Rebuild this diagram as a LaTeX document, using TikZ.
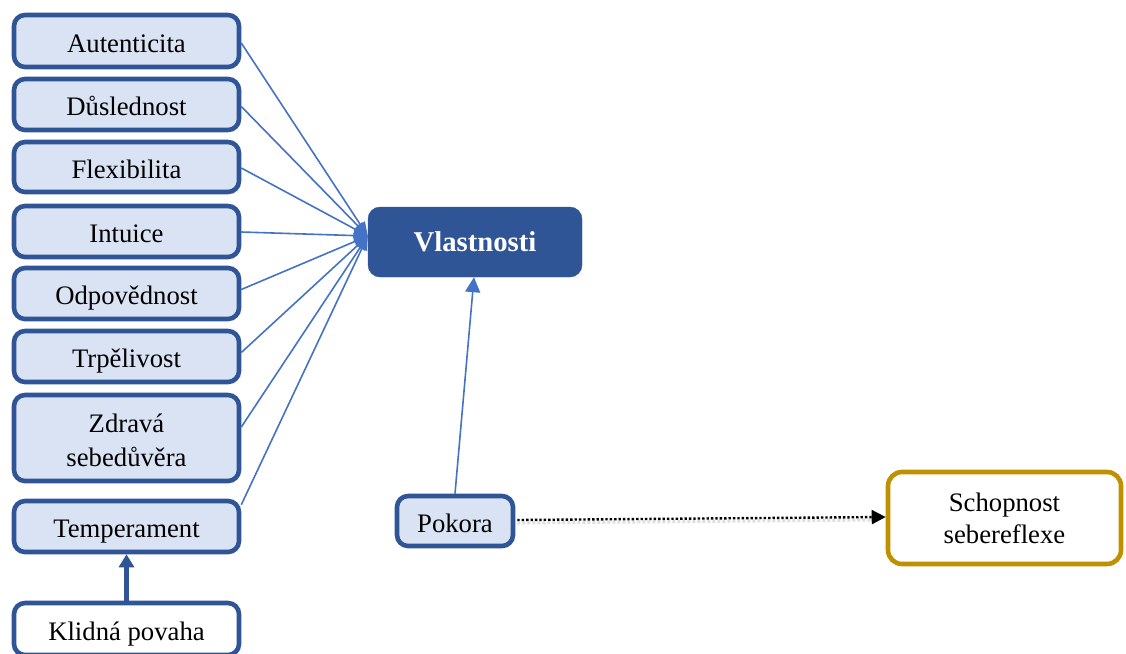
\documentclass[tikz,border=0pt]{standalone}
\usepackage{fontspec}
\setmainfont{Liberation Serif}
\usetikzlibrary{arrows.meta,calc}
\definecolor{navy}{HTML}{2F5597}
\definecolor{paleblue}{HTML}{DAE3F3}
\definecolor{linkblue}{HTML}{4472C4}
\definecolor{gold}{HTML}{BF9000}
\begin{document}
\begin{tikzpicture}[x=1pt,y=-1pt,
  trait/.style={draw=navy, fill=paleblue, line width=4.6pt, rounded corners=11pt,
    minimum width=225pt, inner sep=0pt, align=center,
    text height=22pt, text depth=0pt,
    font=\fontsize{26.7}{34}\selectfont},
  plainbox/.style={trait, fill=white},
  hubbox/.style={draw=navy, fill=navy, rounded corners=12pt, minimum width=214pt,
    minimum height=70pt, inner sep=0pt, text=white,
    font=\fontsize{28.7}{34}\selectfont\bfseries},
  goalbox/.style={draw=gold, fill=white, line width=4.6pt, rounded corners=14pt,
    minimum width=233pt, minimum height=92pt, inner sep=0pt, align=center,
    font=\fontsize{26.7}{32}\selectfont},
  feed/.style={draw=linkblue, line width=1.6pt, -{Triangle[length=14pt,width=11pt]}},
  lift/.style={draw=linkblue, line width=1.6pt, -{Triangle[length=15pt,width=15pt]}},
  base/.style={draw=navy, line width=4.5pt, -{Triangle[length=13pt,width=15pt]}},
  hint/.style={draw=black, line width=2.4pt, dotted, -{Triangle[length=14pt,width=14pt]}}]
\useasboundingbox (0,0) rectangle (1126,653);

% left column of traits
\node[trait, minimum height=52pt] (t1) at (126.5,41) {Autenticita};
\node[trait, minimum height=51pt] (t2) at (126.5,104.5) {Důslednost};
\node[trait, minimum height=50pt] (t3) at (126.5,167) {Flexibilita};
\node[trait, minimum height=51pt] (t4) at (126.5,231.5) {Intuice};
\node[trait, minimum height=51pt] (t5) at (126.5,293.5) {Odpovědnost};
\node[trait, minimum height=51pt] (t6) at (126.5,356.5) {Trpělivost};
\node[trait, minimum height=86pt, text height=56pt] (t7) at (126.5,438) {Zdravá\\sebedůvěra};
\node[trait, minimum height=51pt] (t8) at (126.5,526.5) {Temperament};
\node[plainbox, minimum height=52pt] (t9) at (126.5,629) {Klidná povaha};

% central node and the others
\node[hubbox] (vl) at (475,242) {Vlastnosti};
\node[trait, minimum width=116pt, minimum height=50pt] (pok) at (455,521) {Pokora};
\node[goalbox] (sch) at (1004.5,518) {Schopnost\\sebereflexe};

\coordinate (hub) at ($(vl.west)+(0,-6)$);

% traits feeding the central node
\draw[feed] ($(t1.east)+(0,2)$) -- (hub);
\draw[feed] ($(t2.east)+(0,2)$) -- (hub);
\draw[feed] ($(t3.east)+(0,1)$) -- (hub);
\draw[feed] ($(t4.east)+(0,0.5)$) -- (hub);
\draw[feed] ($(t5.east)+(0,-4)$) -- (hub);
\draw[feed] ($(t6.east)+(0,-4)$) -- (hub);
\draw[feed] ($(t7.east)+(0,-11)$) -- (hub);
\draw[feed] ($(t8.north east)+(0,6)$) -- (hub);

% other connectors
\draw[base] (t9.north) -- (t8.south);
\draw[lift] (pok.north) -- ($(vl.south)+(-1,0)$);
\draw[gray!25, line width=3pt, dotted] ($(pok.east)+(2,2)$) -- ($(sch.west)+(-10,2)$);
\draw[hint] ($(pok.east)+(2,-1)$) -- ($(sch.west)+(0,-1)$);
\end{tikzpicture}
\end{document}
